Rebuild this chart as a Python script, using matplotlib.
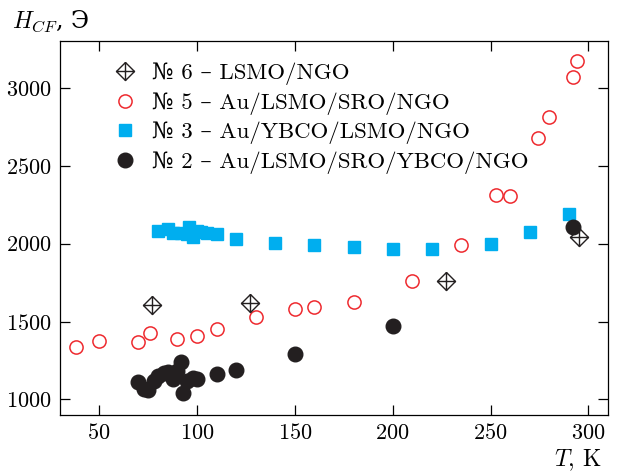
import matplotlib
matplotlib.use("Agg")
import matplotlib.pyplot as plt
from matplotlib.path import Path

plt.rcParams["font.family"] = ["cmr10", "DejaVu Serif"]
plt.rcParams["mathtext.fontset"] = "cm"
plt.rcParams["axes.formatter.use_mathtext"] = True

# sample No 6 -- LSMO/NGO
t6 = [77, 127, 227, 295]
h6 = [1603, 1618, 1763, 2045]

# sample No 5 -- Au/LSMO/SRO/NGO
t5 = [38, 50, 70, 76, 90, 100, 110, 130, 150, 160, 180, 210, 235, 253, 260, 274, 280, 292, 294]
h5 = [1335, 1374, 1367, 1428, 1389, 1410, 1449, 1529, 1582, 1593, 1625, 1757, 1992,
      2312, 2303, 2677, 2815, 3069, 3172]

# sample No 3 -- Au/YBCO/LSMO/NGO
t3 = [80, 85, 88, 92, 95, 96, 98, 100, 102, 105, 110, 120, 140, 160, 180, 200, 220, 250, 270, 290]
h3 = [2080, 2095, 2065, 2070, 2060, 2105, 2045, 2080, 2075, 2070, 2060, 2030, 2005,
      1990, 1975, 1965, 1965, 1995, 2075, 2190]

# sample No 2 -- Au/LSMO/SRO/YBCO/NGO
t2 = [70, 73, 75, 78, 80, 83, 85, 88, 90, 92, 93, 95, 98, 100, 110, 120, 150, 200, 292]
h2 = [1110, 1070, 1060, 1120, 1150, 1170, 1175, 1130, 1180, 1240, 1040, 1120, 1140,
      1130, 1165, 1190, 1290, 1470, 2105]

labels = ["№ 6 – LSMO/NGO", "№ 5 – Au/LSMO/SRO/NGO",
          "№ 3 – Au/YBCO/LSMO/NGO", "№ 2 – Au/LSMO/SRO/YBCO/NGO"]

# diamond with a cross inside
M, L = Path.MOVETO, Path.LINETO
cross_diamond = Path(
    [(0, 1), (1, 0), (0, -1), (-1, 0), (0, 1), (0, 1), (0, -1), (-1, 0), (1, 0)],
    [M, L, L, L, L, M, L, M, L],
)

fig = plt.figure(figsize=(6.17, 4.75), dpi=100)
ax = fig.add_axes([0.0972, 0.1263, 0.8882, 0.7874])

ax.plot(t2, h2, ls="none", marker="o", ms=10.5, mfc="#231f20", mec="#231f20", label=labels[3], zorder=4)
ax.plot(t3, h3, ls="none", marker="s", ms=8.8, mfc="#00aeef", mec="#00aeef", label=labels[2], zorder=3)
ax.plot(t5, h5, ls="none", marker="o", ms=9.5, mfc="none", mec="#ee2a2f", mew=1.1, label=labels[1], zorder=5)
ax.plot(t6, h6, ls="none", marker=cross_diamond, ms=13, mfc="none", mec="#231f20", mew=1.0, label=labels[0], zorder=6)

ax.set_xlim(30, 310)
ax.set_ylim(900, 3300)
ax.set_xticks([50, 100, 150, 200, 250, 300])
ax.set_yticks([1000, 1500, 2000, 2500, 3000])
ax.tick_params(direction="in", top=True, right=True, length=7, width=0.9, labelsize=16, pad=6)
for s in ax.spines.values():
    s.set_linewidth(0.9)

handles, labs = ax.get_legend_handles_labels()
ax.legend(handles[::-1], labs[::-1], loc="upper left", bbox_to_anchor=(0.064, 0.991),
          frameon=False, fontsize=16.5, handletextpad=0.7, labelspacing=0.3,
          handlelength=1.0, borderpad=0.3)

fig.text(0.02, 0.955, "$H_{CF}$, Э", fontsize=17, ha="left", va="center",
         family=["DejaVu Serif"])
fig.text(0.975, 0.03, "$T$, K", fontsize=17, ha="right", va="center")

fig.savefig("out.png", dpi=100)
